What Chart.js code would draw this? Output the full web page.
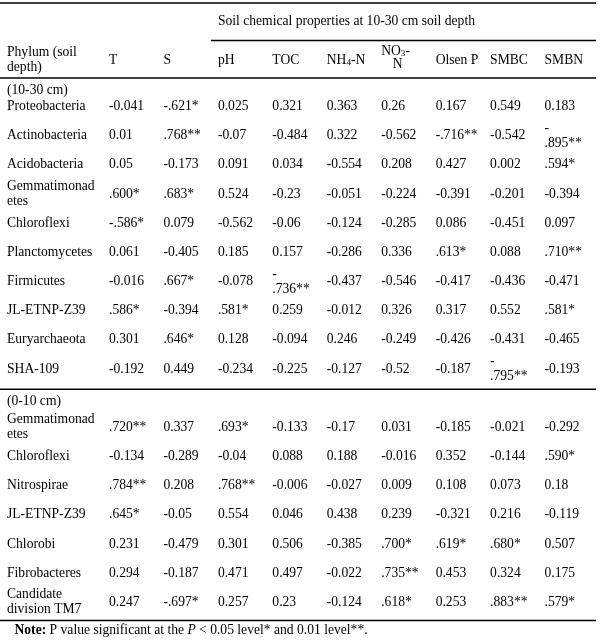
<!DOCTYPE html>
<html>
<head>
<meta charset="utf-8">
<script src="https://cdn.jsdelivr.net/npm/chart.js@4.4.1/dist/chart.umd.min.js"></script>
<style>
    html, body { margin: 0; padding: 0; background: #fff; }
</style>
</head>
<body>
<canvas id="correlacao-filo" width="600" height="640"></canvas>
<script>
// soil factors (table columns)
const columns = ['T', 'S', 'pH', 'TOC', 'NH4-N', 'NO3-N', 'Olsen P', 'SMBC', 'SMBN'];

// 10-30 cm
const phylaDeep = ['Proteobacteria', 'Actinobacteria', 'Acidobacteria', 'Gemmatimonadetes', 'Chloroflexi',
    'Planctomycetes', 'Firmicutes', 'JL-ETNP-Z39', 'Euryarchaeota', 'SHA-109'];
const valuesDeep = [
    [-0.041, -0.621, 0.025, 0.321, 0.363, 0.26, 0.167, 0.549, 0.183],
    [0.01, 0.768, -0.07, -0.484, 0.322, -0.562, -0.716, -0.542, -0.895],
    [0.05, -0.173, 0.091, 0.034, -0.554, 0.208, 0.427, 0.002, 0.594],
    [0.6, 0.683, 0.524, -0.23, -0.051, -0.224, -0.391, -0.201, -0.394],
    [-0.586, 0.079, -0.562, -0.06, -0.124, -0.285, 0.086, -0.451, 0.097],
    [0.061, -0.405, 0.185, 0.157, -0.286, 0.336, 0.613, 0.088, 0.71],
    [-0.016, 0.667, -0.078, -0.736, -0.437, -0.546, -0.417, -0.436, -0.471],
    [0.586, -0.394, 0.581, 0.259, -0.012, 0.326, 0.317, 0.552, 0.581],
    [0.301, 0.646, 0.128, -0.094, 0.246, -0.249, -0.426, -0.431, -0.465],
    [-0.192, 0.449, -0.234, -0.225, -0.127, -0.52, -0.187, -0.795, -0.193]
];
// significance: 1 = P<0.05 (*), 2 = P<0.01 (**)
const starsDeep = [
    [0, 1, 0, 0, 0, 0, 0, 0, 0],
    [0, 2, 0, 0, 0, 0, 2, 0, 2],
    [0, 0, 0, 0, 0, 0, 0, 0, 1],
    [1, 1, 0, 0, 0, 0, 0, 0, 0],
    [1, 0, 0, 0, 0, 0, 0, 0, 0],
    [0, 0, 0, 0, 0, 0, 1, 0, 2],
    [0, 1, 0, 2, 0, 0, 0, 0, 0],
    [1, 0, 1, 0, 0, 0, 0, 0, 1],
    [0, 1, 0, 0, 0, 0, 0, 0, 0],
    [0, 0, 0, 0, 0, 0, 0, 2, 0]
];

// 0-10 cm
const phylaTop = ['Gemmatimonadetes', 'Chloroflexi', 'Nitrospirae', 'JL-ETNP-Z39', 'Chlorobi',
    'Fibrobacteres', 'Candidate division TM7'];
const valuesTop = [
    [0.72, 0.337, 0.693, -0.133, -0.17, 0.031, -0.185, -0.021, -0.292],
    [-0.134, -0.289, -0.04, 0.088, 0.188, -0.016, 0.352, -0.144, 0.59],
    [0.784, 0.208, 0.768, -0.006, -0.027, 0.009, 0.108, 0.073, 0.18],
    [0.645, -0.05, 0.554, 0.046, 0.438, 0.239, -0.321, 0.216, -0.119],
    [0.231, -0.479, 0.301, 0.506, -0.385, 0.7, 0.619, 0.68, 0.507],
    [0.294, -0.187, 0.471, 0.497, -0.022, 0.735, 0.453, 0.324, 0.175],
    [0.247, -0.697, 0.257, 0.23, -0.124, 0.618, 0.253, 0.883, 0.579]
];
const starsTop = [
    [2, 0, 1, 0, 0, 0, 0, 0, 0],
    [0, 0, 0, 0, 0, 0, 0, 0, 1],
    [2, 0, 2, 0, 0, 0, 0, 0, 0],
    [1, 0, 0, 0, 0, 0, 0, 0, 0],
    [0, 0, 0, 0, 0, 1, 1, 1, 0],
    [0, 0, 0, 0, 0, 2, 0, 0, 0],
    [0, 1, 0, 0, 0, 1, 0, 2, 1]
];

const spannerTitle = 'Soil chemical properties at 10-30 cm soil depth';
const phylumTitle = 'Phylum (soil depth)';
const groupTitles = ['(10-30 cm)', '(0-10 cm)'];

const FAMILY = "'Liberation Serif', 'Times New Roman', serif";
const SIZE = 13.6;
const font = (style) => (style || '') + ' ' + SIZE + 'px ' + FAMILY;

function fmt(v, s) {
    if (s > 0) return v.toFixed(3).replace('0.', '.') + '*'.repeat(s);
    return String(v);
}

// rows of the y axis (keys have to be unique, some phyla appear twice)
const rowKeys = [];
const points = [];
const phylumRows = [];
function addGroup(tag, phyla, values, stars) {
    phyla.forEach(function (name, i) {
        const key = tag + ' ' + name;
        rowKeys.push(key);
        phylumRows.push({ key: key, name: name });
        columns.forEach(function (col, j) {
            points.push({ x: col, y: key, v: values[i][j], s: stars[i][j] });
        });
    });
}
addGroup('10-30', phylaDeep, valuesDeep, starsDeep);
rowKeys.push('group 0-10');
addGroup('0-10', phylaTop, valuesTop, starsTop);

// simple word wrap (breaks inside long words too)
function wrap(ctx, text, maxW) {
    const lines = [];
    let cur = '';
    text.split(' ').forEach(function (word) {
        const test = cur ? cur + ' ' + word : word;
        if (ctx.measureText(test).width <= maxW) { cur = test; return; }
        if (cur) lines.push(cur);
        cur = '';
        for (const ch of word) {
            if (ctx.measureText(cur + ch).width > maxW && cur) { lines.push(cur); cur = ch; }
            else cur += ch;
        }
    });
    if (cur) lines.push(cur);
    return lines;
}

// text with subscripts: parts = [[text, isSub], ...]
function rich(ctx, parts, x, y) {
    parts.forEach(function (p) {
        ctx.font = p[1] ? (SIZE * 0.68) + 'px ' + FAMILY : font();
        ctx.fillText(p[0], x, p[1] ? y + 3 : y);
        x += ctx.measureText(p[0]).width;
    });
    return x;
}
function richWidth(ctx, parts) {
    let w = 0;
    parts.forEach(function (p) {
        ctx.font = p[1] ? (SIZE * 0.68) + 'px ' + FAMILY : font();
        w += ctx.measureText(p[0]).width;
    });
    return w;
}

function hline(ctx, x1, x2, y) {
    ctx.beginPath();
    ctx.moveTo(x1, y);
    ctx.lineTo(x2, y);
    ctx.stroke();
}

const tablePlugin = {
    id: 'tablePlugin',
    afterDraw(chart) {
        const ctx = chart.ctx;
        const area = chart.chartArea;
        const xs = chart.scales.x;
        const ys = chart.scales.y;
        const band = xs.width / columns.length;
        const colX = (j) => xs.getPixelForValue(j) - band / 2 + 3;
        const right = area.right;

        ctx.save();
        ctx.fillStyle = '#000';
        ctx.strokeStyle = '#000';
        ctx.lineWidth = 1.5;
        ctx.textBaseline = 'middle';
        ctx.textAlign = 'left';
        ctx.font = font();

        // rules
        hline(ctx, 0, right, area.top - 89);
        hline(ctx, colX(2) - 7, right, area.top - 51.5);
        hline(ctx, 0, right, area.top - 14);
        const gapY = ys.getPixelForValue(rowKeys.indexOf('group 0-10'));
        hline(ctx, 0, right, gapY - 9);
        hline(ctx, 0, right, area.bottom + 3.5);

        // spanner + column headers
        ctx.font = font();
        ctx.fillText(spannerTitle, colX(2), area.top - 71);
        const yH = area.top - 32;
        wrap(ctx, phylumTitle, 90).forEach(function (line, k) {
            ctx.fillText(line, 7, yH - 7.5 + k * 15);
        });
        const headerW = [];
        columns.forEach(function (col, j) {
            const x0 = colX(j);
            ctx.font = font();
            if (col === 'NH4-N') {
                const parts = [['NH', false], ['4', true], ['-N', false]];
                headerW.push(richWidth(ctx, parts));
                rich(ctx, parts, x0, yH);
            } else if (col === 'NO3-N') {
                const parts = [['NO', false], ['3', true], ['-', false]];
                const w = richWidth(ctx, parts);
                headerW.push(w);
                rich(ctx, parts, x0, yH - 9);
                ctx.font = font();
                ctx.textAlign = 'center';
                ctx.fillText('N', x0 + w / 2 + 2, yH + 4);
                ctx.textAlign = 'left';
            } else {
                headerW.push(ctx.measureText(col).width);
                ctx.fillText(col, x0, yH);
            }
        });

        // group labels and phylum names
        ctx.font = font();
        const firstY = ys.getPixelForValue(0);
        ctx.fillText(groupTitles[0], 7, firstY - 16.5);
        ctx.fillText(groupTitles[1], 7, gapY + 3);
        phylumRows.forEach(function (r) {
            const yc = ys.getPixelForValue(rowKeys.indexOf(r.key));
            const lines = wrap(ctx, r.name, 90);
            lines.forEach(function (line, k) {
                ctx.fillText(line, 7, yc + (k - (lines.length - 1) / 2) * 15);
            });
        });

        // cell values, placed by the scales
        const meta = chart.getDatasetMeta(0);
        const data = chart.data.datasets[0].data;
        meta.data.forEach(function (el, k) {
            const p = data[k];
            const j = columns.indexOf(p.x);
            const txt = fmt(p.v, p.s);
            const x0 = el.x - band / 2 + 3;
            const cellW = Math.max(band - 14, headerW[j]);
            ctx.font = font();
            if (ctx.measureText(txt).width > cellW && txt[0] === '-') {
                ctx.fillText('-', x0, el.y - 7.5);
                ctx.fillText(txt.slice(1), x0, el.y + 7.5);
            } else {
                ctx.fillText(txt, x0, el.y);
            }
        });

        // note under the table
        const yN = area.bottom + 13.5;
        let x = 14.5;
        ctx.font = font('bold');
        ctx.fillText('Note:', x, yN);
        x += ctx.measureText('Note:').width;
        ctx.font = font();
        ctx.fillText(' P value significant at the ', x, yN);
        x += ctx.measureText(' P value significant at the ').width;
        ctx.font = font('italic');
        ctx.fillText('P', x, yN);
        x += ctx.measureText('P').width;
        ctx.font = font();
        ctx.fillText(' < 0.05 level* and 0.01 level**.', x, yN);

        ctx.restore();
    }
};

const ctx = document.getElementById('correlacao-filo').getContext('2d');
const tabelaChart = new Chart(ctx, {
    type: 'scatter',
    data: {
        datasets: [{
            label: 'Correlation',
            data: points,
            pointRadius: 0,
            pointHoverRadius: 0,
            showLine: false
        }]
    },
    options: {
        responsive: false,
        animation: false,
        events: [],
        layout: {
            padding: { left: 106, right: 4, top: 92, bottom: 23 }
        },
        scales: {
            x: { type: 'category', labels: columns, offset: true, display: false },
            y: { type: 'category', labels: rowKeys, offset: true, display: false }
        },
        plugins: {
            legend: { display: false },
            tooltip: { enabled: false }
        }
    },
    plugins: [tablePlugin]
});
</script>
</body>
</html>
